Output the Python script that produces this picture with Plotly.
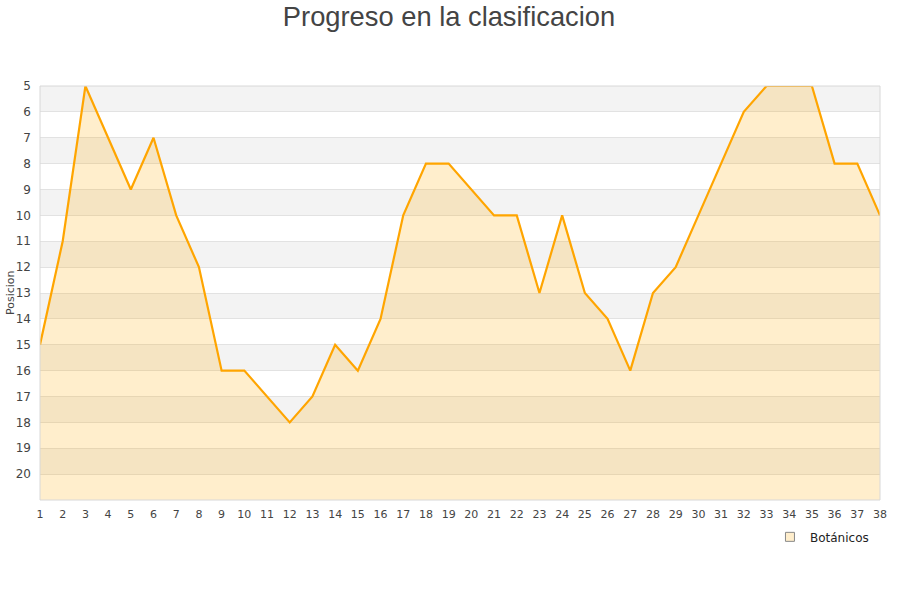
import plotly.graph_objects as go

jornadas = list(range(1, 39))
posicion = [15, 11, 5, 7, 9, 7, 10, 12, 16, 16, 17, 18, 17, 15, 16, 14, 10, 8, 8, 9,
            10, 10, 13, 10, 13, 14, 16, 13, 12, 10, 8, 6, 5, 5, 5, 8, 8, 10]
y_bottom = 21
y_top = 5
equipo = "Botánicos"

fig = go.Figure()
fig.add_trace(go.Scatter(x=jornadas, y=[y_bottom] * len(jornadas), mode="lines",
                         line=dict(width=0), showlegend=False, hoverinfo="skip"))
fig.add_trace(go.Scatter(x=jornadas, y=posicion, mode="lines", name=equipo,
                         fill="tonexty", fillcolor="rgba(255,170,0,0.2)",
                         line=dict(color="#ffa500", width=2.2), showlegend=False))
fig.add_trace(go.Scatter(x=[None], y=[None], mode="markers", name=equipo,
                         marker=dict(symbol="square", size=9, color="#ffeecc",
                                     line=dict(color="#888888", width=1))))

shapes = []
for start in range(5, 21, 2):
    shapes.append(dict(type="rect", xref="paper", yref="y", x0=0, x1=1, y0=start, y1=start + 1,
                       fillcolor="#f3f3f3", line=dict(width=0), layer="below"))
shapes.append(dict(type="rect", xref="paper", yref="paper", x0=0, x1=1, y0=0, y1=1,
                   line=dict(color="#d8d8d8", width=1), fillcolor="rgba(0,0,0,0)", layer="above"))

fig.update_layout(
    width=900, height=600,
    paper_bgcolor="white", plot_bgcolor="white",
    margin=dict(l=40, r=20, t=86, b=100, autoexpand=False),
    title=dict(text="Progreso en la clasificacion", x=449 / 900, xanchor="center",
               y=1 - 16 / 600, yanchor="middle",
               font=dict(family="Liberation Sans, Arial, sans-serif", size=27.3, color="#444444")),
    font=dict(family="DejaVu Sans, sans-serif", size=11, color="#444444"),
    shapes=shapes,
    xaxis=dict(range=[1, 38], tickmode="array", tickvals=jornadas, showgrid=False,
               zeroline=False, showline=False, ticks="", tickfont=dict(size=11),
               ticklabelstandoff=6, automargin=False),
    yaxis=dict(range=[y_bottom, y_top], tickmode="array", tickvals=list(range(5, 21)),
               showgrid=True, gridcolor="#e2e2e2", gridwidth=1, zeroline=False,
               showline=False, ticks="", tickfont=dict(size=12),
               ticklabelstandoff=8, automargin=False),
    annotations=[dict(text="Posicion", xref="paper", yref="paper", x=-30 / 840, y=0.5,
                      xanchor="center", yanchor="middle", textangle=-90, showarrow=False,
                      font=dict(size=11, color="#444444"))],
    legend=dict(x=0.869, y=-0.089, xanchor="left", yanchor="middle",
                bgcolor="rgba(0,0,0,0)", font=dict(size=12, color="#222222")),
    showlegend=True,
)

fig.write_html("out.html", config={"displayModeBar": False},
               post_script="document.body.style.margin='0';")
